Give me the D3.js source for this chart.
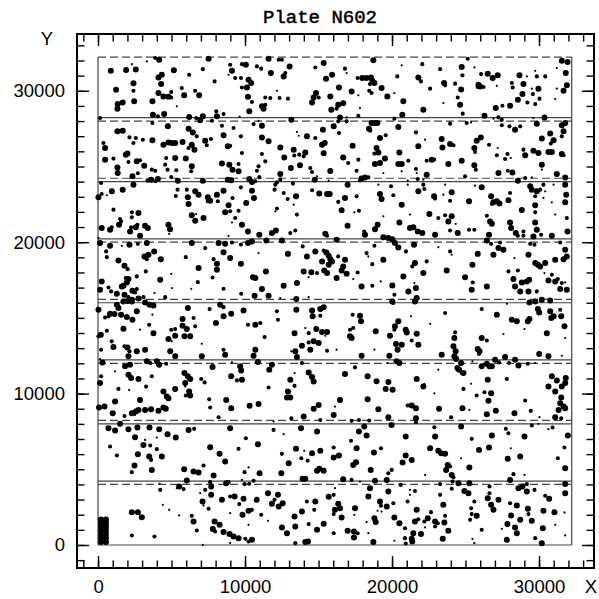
<!DOCTYPE html>
<html>
<head>
<meta charset="utf-8">
<script src="https://cdn.jsdelivr.net/npm/d3@7"></script>
<style>
body { margin: 0; background: #fff; }
</style>
</head>
<body>
<div id="container"></div>
<script>
const title = 'Plate N602';
const majorTicks = [0, 10000, 20000, 30000];
const minorTicks = d3.range(-1000, 34000, 1000);

// scan strips: start Y of each strip, all the same height and width
const stripStarts = [0, 4000, 8000, 12000, 16000, 20000, 24000, 28000];
const stripHeight = 4224;
const plateWidth = 32224;

// stars: [X, Y, size class 1..3]
const stars = [
// upper left
[3320,31940,1],[3890,32160,2],[4160,32050,3],[7520,32120,3],[870,31320,3],[1910,31370,3],[2570,31410,3],[2300,31760,1],
[5160,31350,3],[7130,31430,2],[8990,31720,2],[9110,31320,3],[8880,31060,1],[9790,31760,2],[10060,31720,3],[10810,31610,2],
[11100,31460,2],[11600,32120,3],[12290,32050,2],[12510,32050,2],[13030,31610,3],[11760,31170,3],[12740,31170,2],[12630,30950,3],
[14780,31540,2],[15350,31830,3],[15510,30800,3],[15920,31060,3],[4110,30880,3],[4340,31060,3],[4290,30440,3],[2410,30490,3],
[6200,31060,2],[7930,30620,2],[9330,30840,2],[9720,30840,2],[10240,30730,3],[10420,30510,3],[10130,30220,3],[9790,30220,2],
[1230,30070,3],[2410,30000,2],[4110,29850,3],[4450,29630,3],[4790,29610,3],[4980,29920,2],[4980,29560,2],[5700,30180,2],
[5860,29700,3],[6610,30000,2],[6880,29700,3],[10200,29610,3],[10470,29260,2],[11380,29560,2],[11720,29520,2],[12170,30000,1],
[12350,29520,2],[12920,29480,2],[14830,29850,3],[14670,29560,3],[14560,29230,3],[15010,29560,2],[15800,29630,3],[1340,29120,3],
[1680,29230,3],[1320,28820,3],[2460,29300,3],[3700,29300,3],[5360,28970,1],[11150,28970,3],[11260,28820,3],[11380,29080,2],
[10290,28640,3],[3730,28420,3],[4070,28310,2],[4500,28460,3],[6200,28270,3],[6680,28200,2],[6950,28050,3],[7130,28310,3],
[8040,28640,2],[8090,28310,3],[8540,28460,2],[9630,28290,1],[140,28200,2],[13150,28090,3],[15870,28750,3],
[3700,27870,2],[4750,27650,3],[6160,27500,3],[6450,27250,3],[6720,26990,2],[7750,28020,2],[8430,27690,2],[9220,27540,2],
[10580,27800,2],[10920,28020,1],[11150,27690,3],[16030,27650,3],[1320,27320,3],[1680,27360,3],[13530,27280,1],[13650,27030,1],
[14210,26990,3],[14780,26880,2],[15300,27430,3],[8540,27060,3],[9720,26990,2],[11150,26920,3],[11600,26660,3],[2140,26920,2],
[2570,26880,2],[3050,26770,2],[3700,26730,3],[2410,26550,2],[4790,26590,3],[5020,26550,3],[5250,26550,3],[4450,26440,3],
[5750,26620,3],[6380,26440,3],[6160,26220,2],[6560,26110,3],[7290,26700,3],[7680,26810,2],[7400,26400,2],[8830,26330,3],
[8990,26370,2],[370,26550,2],[480,26220,3],[15420,26550,3],[15240,26440,3],[12400,26260,3],[13310,26110,3],[13350,25730,2],
[14100,25930,3],[13690,25780,2],[13990,25670,2],[15350,25870,3],[9790,25890,2],[11150,25820,2],[1890,25780,3],[2000,25850,3],
[2070,25300,2],[480,25450,3],[1050,25520,2],[2640,25340,3],[2860,25410,2],[3140,25050,3],[4640,25560,2],[5250,25560,3],
[4570,25120,2],[5970,25520,3],[6380,25010,3],[6340,24680,2],[4730,24790,2],[8430,25190,3],[8930,25120,3],[9560,25160,2],
[9150,24790,3],[9560,24680,3],[11380,25340,2],[10920,25010,2],[10810,24720,2],[12670,25600,3],[13120,24900,3],[13740,25080,3],
[14440,24900,2],[14560,24640,2],[15800,24700,3],[1320,24940,3],[1340,24570,3],[3660,24790,2],[3890,24720,2],[5320,24750,2],
[2340,24350,3],[2710,24550,2],[12400,24500,3],[14900,24350,1],[15690,24060,1],
[3360,24060,2],[3610,24130,3],[4070,24170,3],[3890,24020,2],[4980,24300,2],[5430,24060,3],[7130,24060,3],[8830,24130,3],
[9060,24090,3],[10290,24170,3],[10470,23980,3],[10700,24020,2],[10970,24300,2],[12400,24130,2],[14740,24130,3],[210,23910,2],
[2410,23800,3],[12060,23800,2],[12170,23950,2],[13260,23870,2],[940,23360,3],[1680,23470,3],[250,23180,2],[30,22960,3],
[600,23100,1],[5410,23470,2],[6040,23470,2],[6610,23360,3],[6840,23140,3],[5290,23050,2],[6110,22960,3],[7470,22960,3],
[7630,22740,3],[7970,23030,1],[8090,23140,3],[8540,23400,3],[9720,23620,2],[10470,23400,3],[12010,23470,2],[12630,23250,2],
[14560,23430,2],[15050,23210,3],[15580,23180,3],[15760,23180,3],[7470,22700,2],[8150,22700,2],[9150,22920,2],[10610,22920,3],
[10080,22590,3],[12900,22850,2],[13470,23030,3],[6160,22520,3],[8880,22440,3],[8990,22040,2],[1050,22150,2],[2300,21970,2],
[2750,21930,3],[2300,21640,2],[12170,22220,2],[12060,22040,1],[13310,22480,1],[9560,22080,2],[6380,21780,3],[7180,21600,3],
[6680,21860,1],[8650,21970,3],[13530,21820,2],[1500,21530,2],[9330,21600,2],
// upper right
[18730,32010,3],[20660,31680,1],[22060,31760,2],[23270,31430,2],[24740,31570,3],[24790,31020,2],[25150,32120,2],[25600,31540,1],
[16800,31460,2],[16910,31170,1],[17660,30840,2],[17980,30840,3],[18270,30840,3],[18570,30880,3],[18660,30660,3],[18800,30510,3],
[18500,30440,2],[20360,30950,2],[21790,30880,3],[21970,30620,2],[23540,30510,3],[23610,30360,2],[24290,30470,2],[26060,31100,2],
[26510,31130,3],[26850,30840,3],[27190,31020,3],[25880,30400,3],[25990,30290,3],[26220,30250,2],[25830,30250,2],[27130,30330,1],
[28670,31020,3],[29170,30950,1],[29740,31320,1],[29850,30950,2],[30420,30950,2],[31210,31500,1],[31550,31980,3],[31940,31900,3],
[31820,31170,3],[28150,30510,2],[28210,30220,2],[28940,30440,3],[29960,30140,3],[29510,30140,1],[31210,30140,1],[31890,30360,3],
[31670,30000,3],[16390,30220,3],[17250,29960,3],[17710,29700,1],[18450,30000,2],[18610,29850,2],[19290,30180,3],[19680,29630,3],
[20160,29850,1],[20770,29300,3],[22590,30140,2],[24700,30090,3],[24470,29560,2],[24630,29080,3],[28870,29780,3],[28560,29410,3],
[29210,29230,2],[29580,29780,2],[30030,29480,2],[29740,29120,2],[31100,29450,1],[16340,29080,3],[16680,29170,3],[16230,28820,2],
[17820,28860,1],[22130,28750,3],[23490,29190,1],[27060,28860,3],[27510,29010,2],[28030,29010,3],[24810,28490,2],[17710,28350,2],
[20700,28420,3],[20160,28160,2],[16460,28240,3],[16910,28240,1],[26290,28350,3],[26900,28160,1],[27240,28240,2],[27470,28090,2],
[29620,28200,1],[30370,28240,3],
[16340,27980,2],[16910,27980,2],[18610,27870,3],[18840,27870,3],[19000,27870,3],[18430,27500,3],[18520,27360,2],[20430,27610,3],
[23950,27830,2],[25080,27870,2],[25380,27910,1],[27470,27720,2],[27990,27650,2],[28370,27430,3],[28720,27650,2],[29850,27830,3],
[31550,27720,3],[31780,27870,3],[31670,27320,3],[31550,26990,2],[16390,27210,2],[19180,26880,3],[19570,27060,2],[21630,27250,2],
[22250,26770,1],[23380,26810,3],[23950,26480,3],[24180,26400,2],[23430,26260,3],[25760,26700,3],[26040,26920,3],[25600,26220,3],
[25650,25960,2],[26600,26440,2],[30760,27170,3],[30990,26730,3],[30190,26840,3],[30800,26510,2],[17320,26370,3],[18950,26220,3],
[19070,25930,3],[18800,25850,2],[21790,26330,3],[20500,25930,3],[27190,26220,1],[27130,25740,2],[27850,25820,2],[28940,26110,2],
[29060,25740,3],[29620,26040,3],[29960,25890,3],[30640,25960,3],[30870,25960,3],[31550,25820,3],[31670,25740,2],[16680,25600,3],
[17710,25450,2],[17020,25230,2],[19520,25520,3],[18840,25160,3],[19180,25230,3],[20430,25160,3],[20660,25160,3],[21110,25380,2],
[21630,24830,2],[22360,25380,2],[22700,25450,3],[22860,25450,2],[23830,25160,3],[24740,25380,3],[25600,25080,3],[25700,24790,2],
[27690,25490,2],[28080,25560,1],[30190,25120,3],[30190,24790,1],[17590,24720,2],[19410,24570,1],[20660,24680,1],[21680,24570,1],
[22360,24460,3],[24970,24350,2],[27240,24570,3],[27870,24720,2],[28190,24610,3],[31210,24500,3],[31780,24280,3],[17930,24200,3],
[18160,24280,3],[18390,24280,2],[17820,24090,2],[21070,24060,1],[21750,24170,2],[22130,24130,1],[28560,24060,3],[29060,24240,2],
[29510,24280,1],
[16980,23800,3],[19070,23800,1],[19930,23690,2],[21070,23800,1],[22130,23800,2],[22200,23510,2],[21790,23360,3],[23610,23800,1],
[25650,23730,1],[26100,23620,3],[29400,23690,3],[29510,23470,3],[29850,23360,3],[30080,23470,2],[30300,23800,2],[30420,23360,1],
[30990,23800,1],[31780,23800,3],[19180,23180,3],[19290,22850,3],[20090,23100,2],[20660,22480,3],[16800,22920,3],[17590,23030,2],
[16340,22660,2],[22860,23030,3],[22930,22880,2],[23490,23140,1],[24060,23290,3],[23950,22740,2],[25240,22700,3],[26740,23030,3],
[26900,22630,3],[27130,22700,3],[27310,22550,3],[26790,22520,2],[28030,23250,2],[27920,22770,3],[29740,23030,2],[30300,22920,1],
[30870,22630,1],[31850,23140,3],[31780,22630,3],[29740,22440,3],[16570,22110,3],[17430,21970,1],[17750,22080,2],[19410,21710,1],
[21220,21820,1],[22540,21860,3],[23150,21600,2],[23610,21780,2],[24060,21710,3],[26450,21750,2],[28830,22130,3],[29740,21970,2],
[31100,21820,1],[31890,21600,2],
// middle left
[250,20930,3],[820,20820,3],[935,20990,2],[1430,21150,3],[1571,21370,2],[2180,20710,3],[2250,20990,2],[2570,20990,3],
[2680,21150,2],[2860,20420,3],[3200,21080,3],[3387,20930,3],[4790,21150,3],[4900,20860,3],[4840,20550,1],[6610,21410,3],
[9110,21300,1],[9790,21150,3],[10200,20710,3],[10970,20490,3],[11830,20600,3],[12100,20770,3],[8880,20420,1],[13080,20600,2],
[13420,20770,2],[15460,20550,3],[15580,20420,2],[10470,20050,3],[11450,20110,3],[12510,20110,3],[30,20270,1],[140,19940,3],
[820,19760,3],[1616,19760,1],[2140,19830,3],[2706,19890,2],[3320,19940,3],[6380,19940,3],[7290,19610,2],[8199,19940,3],
[8650,19890,3],[9110,19980,2],[9720,19850,2],[10200,19940,3],[550,19390,2],[600,19010,2],[1390,18790,3],[3160,19060,3],
[3430,19170,3],[3820,19390,3],[3320,18880,2],[4270,18880,3],[5970,19010,2],[8540,19340,3],[8990,18950,3],[10920,19280,1],
[12920,19230,3],[13920,19720,2],[14210,19060,3],[14780,19390,3],[15350,19450,2],[15530,19320,3],[15690,19100,3],[15800,18880,3],
[15920,18730,3],[15240,18730,3],[15690,18510,3],[1800,18440,3],[2020,18220,2],[2640,17740,2],[3250,18070,2],[7860,18880,2],
[8090,18570,3],[8090,18180,3],[6840,18290,3],[9720,18570,3],[13990,18070,3],[14510,18020,3],[14900,17960,2],[15390,18130,3],
[15580,17960,3],[11420,18070,3],[250,17410,3],[140,16860,3],[710,17010,2],[890,16750,2],[1890,17630,2],[2070,17560,3],
[1960,17340,3],[1730,17120,3],[1620,17080,3],[4230,17520,3],[4980,17910,1],[5020,16970,1],[6340,16920,1],[6790,17360,2],
[7790,17670,2],[10540,17690,3],[10700,17630,3],[8540,16920,2],[11150,16900,3],[12630,17120,3],[13530,17300,3],[14330,17690,1],
[2640,16900,2],[2520,16680,2],[2340,16790,3],[1280,16590,3],[1800,16530,3],[2070,16370,2],[2300,16200,3],[2750,16280,3],
[3090,16370,2],[3840,16640,1],[4570,16370,2],[9740,16590,2],[10650,16460,3],[11600,16460,3],[12400,16310,1],[13490,16240,3],
[14330,16370,1],[1730,16090,3],[2020,16110,3],[2300,16090,3],[3200,16020,3],[3500,15870,3],[3770,15820,3],[1280,15870,3],
[1390,15650,3],[30,15540,3],[2640,15430,3],[820,15270,3],[1120,15250,3],[1570,15210,3],[1960,15050,3],[2340,14880,3],
[710,15100,2],[480,15030,2],[6110,15650,3],[7590,15580,2],[8310,15870,3],[8540,15710,2],[8540,15100,3],[9060,15270,3],
[9900,15490,3],[12170,15430,2],[13490,15540,3],[14560,15490,3],[15120,15580,3],[15350,15710,3],[15120,15140,2],[14600,15100,3],
[12240,14880,2],[3700,15210,1],[5750,14920,3],[6500,14990,2],[6610,14440,2],[5750,14480,3],[6040,14260,3],[5250,14260,2],
[4980,14220,2],[8020,14660,3],[10200,14550,2],[10700,14550,3],[11040,14660,2],[14100,14330,1],[14850,14260,3],[15240,14060,3],
[15580,14060,3],[14330,13990,2],[600,14150,2],[190,13890,3],[30,13780,2],[1730,14280,3],[2860,14220,1],[3480,14550,2],
[3770,13990,3],[4790,13600,3],[5250,13820,3],[5880,13780,3],[6270,13780,3],[5020,13450,1],[7060,13290,1],[13370,13990,3],
[11330,13730,2],[15460,13820,1],[935,13450,2],[13870,13160,3],[14330,13380,2],[14670,13450,3],[15010,13340,3],[14440,12900,3],
[15580,12830,2],[210,12900,2],[1050,13070,3],[1800,13120,2],[2000,13050,3],[2140,12790,2],[2640,12790,3],[3200,12900,3],
[2070,12460,3],[4910,12790,3],[5250,12460,3],[7060,12460,3],[8540,12900,2],[8650,12570,3],[10700,12900,3],[10580,12500,3],
[10880,12080,3],[13150,12790,1],[13420,12790,3],[13530,12410,3],[13870,12020,2],[300,12060,3],[140,12280,1],[1840,11800,3],
[2180,11910,3],[3320,12130,3],[3550,12020,2],[4000,12130,3],[4160,11910,3],[4640,11970,2],[7790,11750,3],[9110,12060,1],
[9670,11800,3],[9740,11530,3],[11830,11910,3],[11650,11580,3],[1160,11470,1],[2070,11250,3],[2250,11030,3],[2750,10960,3],
[3660,11140,2],[5880,11360,3],[6110,11140,3],[6270,10960,3],[7020,10960,2],[7250,10740,2],[5930,10700,3],[9060,11140,3],
[9450,10870,2],[9790,10920,3],[13370,11360,1],[13080,10920,3],[14330,11400,3],[14560,11090,3],[14670,10800,3],[210,11140,2],
[140,10700,3],
// middle right
[16980,21080,3],[18160,20490,3],[18110,20710,2],[18840,20860,3],[19020,21150,3],[20500,21300,3],[21220,20930,3],[21450,20990,3],
[21750,20710,3],[22060,20600,3],[22930,20490,3],[23830,21370,3],[23950,20770,2],[24470,20600,3],[24330,21210,1],[25240,20820,2],
[25600,20820,2],[26670,21370,3],[26790,21210,3],[26600,20490,3],[28030,21300,3],[28100,20930,3],[28420,20600,3],[28560,20420,2],
[28940,20710,2],[28940,20420,2],[29620,20380,3],[29740,21300,3],[29850,20820,3],[30140,20490,2],[30870,20420,3],[31940,20710,3],
[19410,20330,3],[19750,20270,3],[20020,20200,3],[16230,20160,3],[18800,19760,2],[20200,19940,3],[20430,19650,3],[21500,19830,3],
[20950,19390,2],[23150,19670,1],[26450,20110,3],[26740,19890,2],[27350,19980,2],[27240,19610,3],[27580,19500,3],[29400,19890,2],
[29690,19830,2],[31440,19980,2],[23950,19390,2],[24060,19170,1],[25830,19230,3],[26900,19170,3],[18270,19280,2],[18390,19060,1],
[18660,18550,2],[19410,18840,3],[21560,18620,3],[21380,18400,2],[22360,18730,2],[22130,17960,3],[23720,18130,3],[25470,18510,3],
[24970,17690,3],[25490,17340,2],[25420,16860,3],[26450,17080,3],[27920,18070,2],[28560,18130,2],[28260,17560,3],[28370,17080,3],
[28830,17340,3],[29170,17410,3],[29330,17520,3],[28720,16750,3],[29280,16750,3],[29850,16750,2],[28330,18950,1],[29280,19170,3],
[29740,18620,3],[29920,18510,3],[30080,18400,3],[30420,18620,3],[30370,17960,1],[30870,17850,2],[30640,17470,3],[31100,17410,3],
[31280,17560,2],[31550,17300,2],[31780,17340,1],[31440,16900,3],[31890,16860,3],[31100,18840,3],[31670,18880,3],[31890,19060,3],
[31780,19500,3],[16340,19060,2],[16800,18840,3],[16680,18400,3],[16570,18130,3],[16910,17910,3],[16230,17630,3],[17660,18000,2],
[17360,17560,1],[17930,17080,3],[18660,17120,2],[19230,17410,1],[20020,17140,3],[20770,17740,3],[21630,16970,3],[21520,17300,1],
[21110,16750,3],[20160,16530,2],[21680,16310,3],[21560,16090,3],[20020,16090,3],[20090,15980,2],[27810,15930,1],[29350,16020,3],
[29740,16090,3],[30190,16200,3],[30760,16150,3],[29920,15580,3],[30010,15360,3],[30760,15430,3],[30990,15100,3],[31440,15540,2],
[30830,14990,3],[31510,15100,3],[26100,15580,2],[27130,15210,3],[23610,15320,2],[28150,14880,3],[28490,14770,3],[29240,14770,3],
[29350,14920,3],[29010,14260,1],[17320,15210,2],[17820,15140,3],[17890,14770,3],[17140,14220,2],[17360,14330,2],[17250,13670,3],
[17140,13780,3],[18890,14110,3],[20430,14770,3],[20200,14440,3],[20160,14220,2],[19860,13820,3],[20930,14220,3],[21000,14040,3],
[21680,13950,3],[21340,13510,2],[21790,13230,3],[22590,14610,1],[21290,15100,1],[20270,13270,3],[20660,13230,3],[20380,12900,3],
[18800,12900,1],[19820,12500,3],[17930,12500,3],[16230,12900,1],[24290,14040,2],[24240,13670,3],[24180,13120,3],[24330,12790,3],
[26100,13670,3],[26450,13510,2],[25830,12940,3],[25950,12790,3],[25920,12610,2],[27580,13930,1],[30530,13990,3],[31780,13670,1],
[31730,14440,3],[23380,12570,3],[24240,12460,3],[24360,12280,3],[24700,12020,3],[24450,11690,3],[24740,11360,2],[25470,12130,1],
[26100,11800,3],[26450,11970,3],[26630,11800,3],[26790,11800,3],[27010,12240,3],[27280,12060,2],[27690,12410,3],[27960,12020,2],
[28370,12240,3],[28600,11860,3],[29240,11970,2],[29740,12020,1],[30010,12610,3],[30640,12460,3],[31550,12500,1],[20310,12130,3],
[20500,12020,3],[19700,12020,1],[16800,11290,3],[17480,11730,2],[18340,11140,3],[18950,10810,3],[19750,10760,3],[21680,10960,3],
[22200,10650,1],[23150,11580,1],[24560,11580,3],[24860,11360,3],[25380,10650,1],[26510,10920,3],[27810,10960,2],[30870,11140,3],
[31210,10870,3],[31820,11030,3],[31780,10700,3],
// lower left
[1390,10310,2],[2120,10240,1],[3270,10460,2],[4450,10130,3],[4680,9800,3],[4790,9690,3],[5250,10310,3],[5930,10460,1],
[6200,10130,3],[6270,9870,3],[5970,9870,2],[1160,9470,3],[2860,9580,3],[70,9080,3],[440,9140,3],[1000,8700,3],
[2300,8700,3],[2570,8810,3],[2750,8920,3],[3200,8920,3],[3610,8970,3],[4110,8860,3],[4450,9080,3],[4610,8990,3],
[1800,8520,2],[2520,8590,1],[7560,9630,2],[7630,9080,2],[8720,9580,3],[9060,9030,3],[10310,9190,3],[10920,9320,3],
[8200,8440,2],[11600,10400,2],[12920,10130,3],[12850,9740,3],[13080,9740,3],[13370,10510,2],[14670,8990,3],[15010,9250,3],
[13990,8480,3],[13150,8370,2],[11940,8150,1],[15120,8260,2],[16030,8590,3],[710,7710,3],[1160,7560,3],[1500,8000,3],
[2070,7650,3],[2680,7760,3],[3500,7760,3],[4160,7650,3],[4730,7320,3],[5290,7100,3],[2520,7120,3],[3200,6940,1],
[4000,7100,1],[6160,7600,3],[6540,7670,2],[8990,7710,3],[11940,7600,2],[12630,7320,1],[13810,7710,3],[14900,7490,3],
[820,6500,2],[1280,5910,2],[3090,6610,3],[3550,6570,2],[4000,6330,2],[2710,6000,3],[3480,5840,3],[3610,5620,2],
[4340,5840,3],[2480,5250,3],[2300,4810,2],[3660,4960,3],[7630,6460,3],[8270,6020,3],[8650,5510,3],[7180,5250,2],
[9560,6350,2],[10060,7050,2],[10880,6660,3],[12510,6020,2],[12970,5400,3],[13470,6350,3],[13830,5730,2],[14030,6220,1],
[14260,5560,2],[14560,6060,3],[15120,6220,3],[16030,6440,2],[5860,5010,3],[6500,4850,3],[6840,4790,3],[7860,4590,3],
[9970,4810,2],[10240,5120,1],[10990,4740,3],[12470,4740,3],[13920,4370,3],[14100,4370,3],[14900,4900,3],[15050,5030,3],
[15350,4900,3],[16030,5780,3],[6040,4260,3],[7630,4150,2],[7700,3860,3],[8720,4080,3],[8880,4150,2],[9790,4300,1],
[9970,4020,2],[10290,4040,2],[10580,4240,2],[4180,4040,1],[4230,3640,2],[5520,3860,3],[5820,3690,2],[5360,3750,1],
[6950,3420,1],[7290,3640,2],[7700,3310,3],[7110,2870,3],[7180,2610,1],[7520,2390,2],[8430,2980,3],[8990,3200,2],
[9290,3200,3],[9610,2700,2],[9900,3050,3],[10240,2260,3],[10470,2320,2],[10790,2980,3],[11100,2000,2],[11560,3420,3],
[11830,2720,3],[12010,2980,2],[12240,3310,3],[12290,2540,3],[12560,2760,3],[8990,2100,1],[9830,2000,3],[10240,1330,1],
[11560,1600,1],[7930,1550,3],[8270,1330,3],[7810,1050,3],[7970,890,2],[8540,850,3],[8950,720,3],[9220,560,3],
[9560,450,3],[10020,410,2],[10470,340,3],[10240,230,2],[8990,120,1],[6380,1930,2],[6500,1550,3],[6720,960,2],
[5520,1950,1],[4840,2320,1],[4410,2650,1],[2300,2170,3],[2710,2170,3],[2980,1840,3],[2300,630,2],[3840,560,2],
[7130,10,1],[13370,1880,3],[13870,2210,3],[14210,2870,2],[14780,2870,3],[14710,2320,2],[15690,3180,3],[16030,3310,2],
[16030,2040,2],[12510,1160,3],[12850,780,3],[13420,1220,3],[14330,1380,2],[14900,1000,3],[15350,1400,3],[16030,780,2],
[13420,120,2],[14100,190,3],[14280,230,3],
// clump of overlapping images in the corner
[200,200,3],[540,200,3],[200,450,3],[540,450,3],[200,700,3],[540,700,3],[200,950,3],[540,950,3],
[200,1200,3],[540,1200,3],[200,1450,3],[540,1450,3],[200,1680,3],[540,1680,3],
// lower right
[16460,9580,3],[18340,9630,3],[19570,10310,3],[20040,10260,3],[22130,10460,3],[22880,10020,1],[24860,10310,2],[25760,9870,2],
[26290,10090,2],[26740,10020,3],[26560,9520,3],[29060,9540,2],[30640,10460,3],[31100,10130,3],[31550,10460,3],[31510,9740,3],
[31440,9360,3],[31670,9140,3],[31780,9030,3],[31330,8920,3],[16120,9140,1],[19070,8970,3],[21060,9210,2],[21340,9210,3],
[21630,9030,3],[23200,8990,3],[24790,9030,3],[25260,8920,1],[26450,8640,3],[27060,8860,3],[28330,8700,3],[29440,8860,2],
[31100,8440,3],[31510,8370,2],[19750,8440,3],[21630,8370,3],[24020,8440,2],[30030,8440,1],[17250,8200,2],[17750,8260,2],
[18450,8220,2],[21630,8110,2],[18110,7820,3],[19970,7930,3],[17750,7490,3],[18270,7230,3],[22880,7780,2],[24700,7820,3],
[27740,7670,2],[27920,7380,2],[29510,7890,2],[29960,8000,1],[30640,7650,1],[30920,7760,2],[20930,7160,3],[22930,7160,3],
[26790,7230,3],[29010,7160,3],[31960,7230,3],[17210,6880,2],[25420,7010,2],[16390,5910,3],[17590,6390,3],[18770,6110,3],
[19250,6390,2],[22590,6390,3],[23150,6220,3],[23340,6060,3],[23610,6020,3],[24700,5730,1],[25920,6280,3],[26600,6440,3],
[28080,6390,1],[27870,5690,3],[28720,5840,3],[31280,5730,2],[31730,6440,2],[20930,5910,3],[20720,5450,3],[21340,5620,3],
[17360,5290,3],[17550,5470,3],[18550,4960,3],[19750,4740,2],[19980,4960,2],[23790,5290,3],[23950,5180,2],[23680,4960,3],
[25260,5120,3],[24060,4630,3],[24180,4460,2],[28260,4680,2],[29010,4630,1],[31780,5070,3],[22250,4630,1],[16680,4350,3],
[17250,4300,2],[17820,4190,1],[18840,4240,3],[19640,4300,3],[20590,3970,2],[23270,4020,2],[24110,4190,2],[24520,4080,3],
[25260,4080,3],[26630,3860,2],[28030,4300,3],[28870,3860,3],[29170,4020,2],[31780,4020,3],[16120,3750,1],[18500,3750,3],
[19750,3530,3],[21220,3640,1],[21560,3570,2],[23270,3310,2],[24060,3710,2],[24920,3570,3],[25200,3420,3],[26630,3420,2],
[28600,3750,3],[29170,3530,3],[29690,3640,2],[30420,3250,2],[30690,3050,3],[31780,3420,3],[18390,3200,3],[19180,2870,3],
[19640,2540,3],[20090,2760,2],[19250,2590,2],[19020,2260,1],[21220,3310,1],[16340,2720,3],[16460,2430,3],[16120,2320,3],
[17480,2430,3],[16570,1820,3],[17430,1990,1],[18270,1510,1],[18800,1770,3],[18890,1510,3],[19290,2210,1],[21060,2870,2],
[21680,2320,3],[22650,2170,2],[22430,1770,3],[22930,1550,3],[23490,2650,3],[23610,1930,2],[23560,1490,3],[23110,1440,2],
[25380,2430,2],[25600,2870,2],[25420,2040,2],[25760,1930,3],[25310,1660,2],[26510,3090,3],[26740,2650,3],[26900,2320,3],
[27240,2980,3],[28030,2760,2],[28490,2610,3],[28100,1950,3],[29240,2390,3],[29280,2040,2],[29510,1600,3],[30300,2260,3],
[31050,2170,3],[31730,2150,1],[20160,1820,3],[20500,1440,3],[20880,1110,2],[21560,1550,3],[21790,1700,2],[22200,1550,2],
[22250,1160,1],[22930,1220,2],[23830,940,3],[21970,720,3],[21450,780,3],[21340,410,3],[21380,230,3],[20880,450,2],
[20160,280,1],[20930,100,2],[16980,940,3],[17410,890,3],[17660,780,2],[17410,500,3],[18390,780,1],[18730,190,3],
[23450,410,3],[25470,410,1],[25600,120,1],[26100,1000,2],[27470,1070,1],[27850,1380,3],[28370,1160,3],[28490,780,3],
[27810,340,3],[28720,1660,3],[29740,450,2],[30260,1110,3],[31100,1330,1],[31780,630,1],[30190,120,3]
];

const width = 599, height = 599;
const frame = { left: 77, right: 594, top: 34, bottom: 568 };

const x = d3.scaleLinear().domain([-1430, 33740]).range([frame.left, frame.right]);
const y = d3.scaleLinear().domain([-1520, 33750]).range([frame.bottom, frame.top]);
const radius = d3.scaleLinear().domain([1, 3]).range([1.1, 3.0]);

const svg = d3.select('#container').append('svg').attr('width', width).attr('height', height);

// strip outlines: even strips solid, odd strips dashed
const edges = [];
stripStarts.forEach((s, i) => {
    edges.push({ v: s, dashed: i % 2 === 1 });
    edges.push({ v: s + stripHeight, dashed: i % 2 === 1 });
});
svg.append('g').selectAll('line')
    .data(edges)
    .enter()
    .append('line')
    .attr('x1', x(0)).attr('x2', x(plateWidth))
    .attr('y1', d => y(d.v)).attr('y2', d => y(d.v))
    .style('stroke', '#444').style('stroke-width', 1.2)
    .style('stroke-dasharray', d => d.dashed ? '8,4' : null);

svg.append('g').selectAll('line')
    .data([0, plateWidth])
    .enter()
    .append('line')
    .attr('x1', d => x(d)).attr('x2', d => x(d))
    .attr('y1', y(0)).attr('y2', y(stripStarts[stripStarts.length - 1] + stripHeight))
    .style('stroke', '#444').style('stroke-width', 1.2);

// stars
svg.append('g').selectAll('circle')
    .data(stars)
    .enter()
    .append('circle')
    .attr('cx', d => x(d[0])).attr('cy', d => y(d[1]))
    .attr('r', d => radius(d[2]))
    .attr('fill', '#000');

// ticks on all four sides, pointing inward
function ticks(axis, tx, ty, values, size, labels) {
    const g = svg.append('g')
        .attr('transform', `translate(${tx}, ${ty})`)
        .call(axis.tickValues(values).tickSize(-size).tickSizeOuter(0).tickPadding(12)
            .tickFormat(labels ? d3.format('d') : ''));
    g.select('.domain').remove();
    g.selectAll('line').style('stroke', '#000').style('stroke-width', 1.4);
    g.selectAll('text').style('font-family', '"Liberation Sans", Arial, sans-serif')
        .style('font-size', '18.5px').style('fill', '#000');
}
ticks(d3.axisBottom(x), 0, frame.bottom, minorTicks, 7.5, false);
ticks(d3.axisBottom(x), 0, frame.bottom, majorTicks, 12, true);
ticks(d3.axisTop(x), 0, frame.top, minorTicks, 7.5, false);
ticks(d3.axisTop(x), 0, frame.top, majorTicks, 12, false);
ticks(d3.axisLeft(y), frame.left, 0, minorTicks, 7.5, false);
ticks(d3.axisLeft(y), frame.left, 0, majorTicks, 12, true);
ticks(d3.axisRight(y), frame.right, 0, minorTicks, 7.5, false);
ticks(d3.axisRight(y), frame.right, 0, majorTicks, 12, false);

svg.append('rect')
    .attr('x', frame.left).attr('y', frame.top)
    .attr('width', frame.right - frame.left).attr('height', frame.bottom - frame.top)
    .attr('fill', 'none').style('stroke', '#000').style('stroke-width', 2);

svg.append('text')
    .attr('x', 320).attr('y', 23)
    .attr('text-anchor', 'middle')
    .style('font-family', '"Liberation Mono", "DejaVu Sans Mono", monospace').style('font-size', '19px')
    .style('stroke', '#000').style('stroke-width', 0.5)
    .text(title);

svg.append('text')
    .attr('x', 591).attr('y', 593).attr('text-anchor', 'middle')
    .style('font-family', '"Liberation Sans", Arial, sans-serif').style('font-size', '18.5px')
    .text('X');
svg.append('text')
    .attr('x', 47).attr('y', 45).attr('text-anchor', 'middle')
    .style('font-family', '"Liberation Sans", Arial, sans-serif').style('font-size', '18.5px')
    .text('Y');
</script>
</body>
</html>
